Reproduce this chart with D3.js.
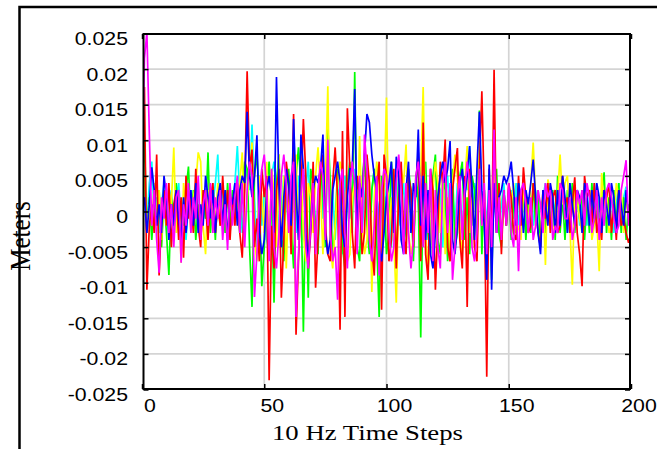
<!DOCTYPE html>
<html>
<head>
<meta charset="utf-8">
<script src="https://cdn.jsdelivr.net/npm/d3@7"></script>
<style>
  html, body { margin: 0; padding: 0; background: #fff; overflow: hidden; }
  svg { display: block; }
</style>
</head>
<body>
<svg id="chart" width="657" height="449"></svg>
<script>
// Time step index (10 Hz samples)
const steps = d3.range(0, 201);

// Displacement per channel, in millimetres (converted to metres when plotted)
const redMm = [
  2, 17.5, -11, -2, 1, -3, 8, -9, -1, 3,
  -2, 4, -5, 1, 3, -4, 2, -6.5, 5, -1,
  2, -3, 6, -2, -5, 3, 1, -4, 2, 4,
  -3, 1, -2, 5, -1, 3, -4, 2, -2, 4,
  -3, -6.5, 3, 19.7, 6, 8.7, -5, -1, -7, 6,
  2, 5, -23.7, -2, -8, 3, 6, -12.1, -4, 7,
  4, -6, 13.7, -17.3, -7, 2, 13, 5, -8, -3,
  7, -10.7, -4, 5, 8, -2, -6, -7, 4, 9,
  2, -16.6, 11.3, -14.8, 14.5, 6, -3, -8, 5, 2,
  -6, -3, 8, 4, -5, -9, 3, 7, -13.8, 8,
  5, -7, -4, 6, -8, 2, 7, -3, -6, 5,
  3, -5, 4, 8.3, -7, 12.5, -6, -9.6, 6, 3,
  -11, -2, 7, 4, 10.1, -5, -7, 3, 6, 8.9,
  -4, -8, 5, -13.4, 6, 3, -5, -7, 6, 16.9,
  2, -23.2, 6, -5, 19.9, -3, 4, -6, 3, -2,
  4, 2, -3, -4, 5, -2, 6.2, 2, -3, -2,
  4, 1, -3, -5, 3, -1, 4, -3, 2, 3,
  -3, -2, 5, 1, 2, -3, 1, 4.8, -3, -6,
  -10.5, 5, 2, 3, -2, 4, -3, -1, -4, 3,
  2, 4, -3, 1, -4, 3, -2, -1, -3, -4.4, -3
];
const greenMm = [
  3, 10.4, -3, 2, -4, 1, -2, 3, -5, 2,
  -3, -8.9, 2, -1, 4, -3, 1, -2, 3, 6.3,
  -2, 3, -4, 1, -3, 2, -1, 8.3, -3, 2,
  -4, 3, -2, 1, -3, 4, -2, 3, -1, 2,
  -3, 4, 7, 6, -5, -13.4, 5, 8, 2, -10.5,
  -5, 3, 7, 1, -12.8, 4, 8, -3, -7, 3,
  6, -2, -8, 5, 9, 4, -16.9, 3, -12.1, 6,
  4, -3, -6, 7, 2, -5, 12, 4, -7, -2,
  6, 3, -5, -8, 4, 7, -3, 19.6, -5, -7,
  4, 8, -2, -6, 3, 6, -4, -14.8, 5, 2,
  -6, -3, 7, 2, -8, 5, 4, -5, -2, 6,
  3, -7, 5, 2, -17.7, 4, 7, -3, -6, 5,
  8, -4, -6, 5, 3, -7, 2, 6, -5, -3,
  5, 7, -4, 2, -6, 5, 3, -4, 14.2, -6,
  3, -5, 2, -9.6, 4, 6, -3, -5, 3, -2,
  3, -4, 2, -3, 4, -2, 3, -4, 2, -3,
  4, -2, 3, -5, 2, -3, 4, -2, 3, -4,
  5, -3, 2, -4, 3, -2, 4, -3, 2, -1,
  3, -4, 2, -3, 4, -2, 3, -3, 2, 5.5,
  -3, 2, -4, 3, -2, 4, -3, 2, -4, 1, -4
];
const blueMm = [
  0, 2, -3, 1, 6.2, 3, -2, 1, -3, 5,
  2, -4, 1, -2, 3, -1, -4, 2, -3, 1,
  3, -2, 4, -3, 1, -2, 5, 2, -1, 3,
  -3, 2, 4, -2, 3, -4, 2, 1, 4, -2,
  3, 5, 4, 14, 5, 2, 5, 10.7, -3, -6,
  -4, 3, 5, 2, -3, 18.9, 4, -5, 2, 6,
  4, -2, 13, 3, -4, 10.8, 6, -3, -7, -2,
  3, 5, 4, 6, 10.8, -3, -6, -4, 3, 5,
  7, 4, -3, -5, 2, 6, 6, 17.2, -3, 4,
  2, 8, 13.7, 12.5, 8, 5, 3, -5, -7, -3,
  2, 4, 7, -3, 7.7, 5, -4, -6, 3, 7,
  -3, 4, 2, 11.5, -2, 5, -4, 3, -6, -8,
  -3, 2, 5, 7, 4, 6, 9.9, -4, -6, -2,
  4, 6, 2, 5, 9.2, 3, -4, 6, 14, 3,
  -2, -9.6, 6.6, -11, 4, -3, 2, 3, 5, 4,
  5, 7, 3, -2, 4, 2, -3, 3, 1, 4,
  7.3, 2, -3, -6, 3, 1, -2, 4, 2, -3,
  3, -2, 5, 2, -3, 4, 1, -2, 3, 2,
  -3, 4, 2, -2, 3, -1, 4, 2, -3, 3,
  1, -2, 4, 2, -3, 3, 1, -2, 3, -1, -3
];
const cyanMm = [
  1, 3, -2, 4, 7, -1, 2, -3, 1, 4,
  -2, 1, 3, -3, 2, 4, -1, 2, -4, 1,
  3, -2, 1, 4, -3, 2, -1, 3, -2, 1,
  4, 8, -2, 3, -1, 2, -3, 1, 4, 9.2,
  2, -3, 4, 6, 3, 12.2, 2, -5, 5, -2,
  3, -4, -6, 5, 7, 4, -3, 1, 5, 3,
  -2, 4, 6, -3, 5, 2, -4, 3, 7, -2,
  4, -3, -5, 5, -1, 3, 7, -2, 3, -4,
  2, 4, -6, 5, 2, -1, 3, 6, -2, 4,
  -3, 2, 5, -4, 3, 6, -2, 1, 3, -3,
  4, 2, -5, 3, 5, -2, 1, 4, -3, 2,
  3, -6, 4, 1, -3, 5, 2, -4, 3, 1,
  -2, 4, 3, -5, 2, 5, -1, 3, -2, 4,
  2, -3, 5, 3, 9.2, -2, 4, 2, 6, -3,
  3, -2, 4, -5, 2, 3, -3, 1, 4, -2,
  2, 3, -1, 4, -2, 1, 3, -3, 2, 1,
  -2, 3, 1, -3, 2, 4, -1, 2, -3, 1,
  3, -2, 2, 1, -3, 4, 2, -1, 3, -2,
  1, 3, -2, 2, -1, 4, -3, 2, 1, -2,
  3, -1, 2, -3, 1, 4, -2, 2, 3.5, -1, 1
];
const magentaMm = [
  3, 21.5, 25.2, 10.8, -2, 3, -4, -8.6, 2, -1,
  4, -3, 1, -5, 2, 3, -7.2, 1, -2, 4,
  -3, 2, -1, 5, -4, 1, 3, -2, 4, -3,
  2, -1, 3, -4, 1, -5.4, 4, -2, 2, 5,
  -3, 4, -5, 3, 7, 5, -12, -6, 2, 6,
  8, 3, -7, 6, -5, -8, -3, 5, 8, 4,
  -3, 5, 7, -14.8, -6, 2, 6, -5, -8, -2,
  4, -6, 3, 7, 5, -4, 10.1, -3, -7, -5,
  -12.4, 4, 6, -3, -8, 3, 7, 4, -6, 5,
  -3, 10.8, 6, -4, -7, -2, 5, -9, 3, 6,
  5, -3, -7, -5, 4, 8, 3, -6, 4, -3,
  -8, -4, 5, 7, 3, -5, 4, -3, 6, -7,
  3, -5, -8, 4, 7, -3, 4, -9.6, -5, 2,
  5, -4, 3, 7, 4, -5, -7, -3, 6, -2,
  4, -6, 3, -5, 11.5, -3, 2, -4, 3, -2,
  4, -3, -5, 2, -8.4, 3, 4, 1, -3, 2,
  -4, -2, 3, 1, -3, 4, 2, 3, -4, -2,
  -3, 4, 3, -1, -1, 2, -4, -2, 3, 1,
  3, -2, 4, 2, -3, -1, 3, -4, 2, -2,
  3, 4, 2, -1, -3, -2, 3, 5, 7.2, -2, 1
];
const yellowMm = [
  2, 5, -3, 1, -2, 4, -1, 3, -4, 2,
  -2, 3, 1, 9, -3, 2, -7.2, 4, -1, 3,
  -3, 2, 4, 8.3, 7, -2, -6, 3, -1, 2,
  -3, 4, -2, 1, 3, -4, 2, -1, 3, -2,
  4, 8.3, -3, 2, 5, 9.7, -4, -7, 5, 2,
  -3, 7, -6, 6, 3, -5, 8, -4, 5, -8,
  3, -6, 5, 8, -4, 6, -3, -7, 4, 2,
  -3, 5, 9, 3, -6, 4, 17.6, -5, -8, -2,
  4, 7, 5, -2, -7, -6, 2, 4, -3, 10.6,
  -2, -6, -4, 5, -11.3, 2, 7, 4, -6, 3,
  16, -3, 2, -4, -12.8, 3, 6, 4, 9.4, -3,
  -6, -4, 3, 7, 5, 17.5, -3, -8, -4, 3,
  7, 4, -3, 5, -6, 2, -7, 4, 8, 5,
  -3, -6, 4, 9.2, -3, 2, -4, 3, 10.5, -2,
  3, -4, 2, -8, 5, -2, 3, -4, 2, -1,
  3, 1, 4, -3, -2, -4, 3, 1, -2, 4,
  9.7, 2, -3, -4, 3, -7.5, 4.5, 3, -2, -3,
  2, 8, 1, 4, 5, -2, -10.3, 3, 2, -1,
  -3, 4, 2, 3, -4, -2, -1, -8.4, 5.4, 1,
  3, -3, -2, -1, 4, 2, 3, -3, 2, -1, 2
];

// Axis ticks
const xTickValues = [0, 50, 100, 150, 200];
const xTickLabels = ["0", "50", "100", "150", "200"];
const yTickValues = [0.025, 0.02, 0.015, 0.01, 0.005, 0, -0.005, -0.01, -0.015, -0.02, -0.025];
const yTickLabels = ["0.025", "0.02", "0.015", "0.01", "0.005", "0", "-0.005", "-0.01", "-0.015", "-0.02", "-0.025"];

// Draw order (last on top)
const channels = [
  { name: "cyan",    color: "#00ffff", mm: cyanMm },
  { name: "green",   color: "#00ff00", mm: greenMm },
  { name: "yellow",  color: "#ffff00", mm: yellowMm },
  { name: "red",     color: "#ff0000", mm: redMm },
  { name: "blue",    color: "#0000ff", mm: blueMm },
  { name: "magenta", color: "#ff00ff", mm: magentaMm }
];

const svg = d3.select("#chart");
const plotLeft = 143.5, plotRight = 630, plotTop = 34, plotBottom = 389;

const x = d3.scaleLinear().domain([0, 200]).range([142, 631]);
const y = d3.scaleLinear().domain([-0.025, 0.025]).range([389.5, 33.5]);

svg.append("rect").attr("width", 657).attr("height", 449).attr("fill", "#fff");

// Outer figure frame
svg.append("path")
  .attr("d", "M19.5,452 V7 H660")
  .attr("fill", "none")
  .attr("stroke", "#000")
  .attr("stroke-width", 2.5);

// Grid
const grid = svg.append("g").attr("stroke", "#d4d4d4").attr("stroke-width", 1.7);
grid.selectAll("line.gx")
  .data(xTickValues.filter(v => v > 0 && v < 200))
  .join("line").attr("class", "gx")
  .attr("x1", d => x(d)).attr("x2", d => x(d))
  .attr("y1", plotTop).attr("y2", plotBottom);
grid.selectAll("line.gy")
  .data(yTickValues.filter(v => v > -0.025 && v < 0.025))
  .join("line").attr("class", "gy")
  .attr("x1", plotLeft).attr("x2", plotRight)
  .attr("y1", d => y(d)).attr("y2", d => y(d));

// Data lines
svg.append("clipPath").attr("id", "plotclip")
  .append("rect")
  .attr("x", plotLeft).attr("y", plotTop)
  .attr("width", plotRight - plotLeft).attr("height", plotBottom - plotTop);

const line = d3.line()
  .x((d, i) => x(steps[i]))
  .y(d => y(d / 1000));

svg.append("g").attr("clip-path", "url(#plotclip)")
  .selectAll("path")
  .data(channels)
  .join("path")
  .attr("d", c => line(c.mm))
  .attr("fill", "none")
  .attr("stroke", c => c.color)
  .attr("stroke-width", 1.7)
  .attr("stroke-linejoin", "miter")
  .attr("stroke-miterlimit", 4);

// Inward ticks on all four sides
function ticksOnly(axis, tx, ty) {
  const g = svg.append("g").attr("transform", `translate(${tx},${ty})`).call(axis);
  g.select(".domain").remove();
  g.selectAll(".tick line").attr("stroke", "#000").attr("stroke-width", 1.5);
  g.selectAll(".tick text").remove();
}
ticksOnly(d3.axisLeft(y).tickValues(yTickValues).tickSize(-5), plotLeft, 0);
ticksOnly(d3.axisRight(y).tickValues(yTickValues).tickSize(-5), plotRight, 0);
ticksOnly(d3.axisTop(x).tickValues(xTickValues).tickSize(-5), 0, plotTop);
ticksOnly(d3.axisBottom(x).tickValues(xTickValues).tickSize(-5), 0, plotBottom);

// Plot box
svg.append("rect")
  .attr("x", plotLeft).attr("y", plotTop)
  .attr("width", plotRight - plotLeft).attr("height", plotBottom - plotTop)
  .attr("fill", "none").attr("stroke", "#000").attr("stroke-width", 2);

// Tick labels
const sans = "'Liberation Sans', Arial, Helvetica, sans-serif";
svg.append("g").selectAll("g")
  .data(yTickValues)
  .join("g")
  .attr("transform", d => `translate(128,${y(d) + 11.5}) scale(1.15,1)`)
  .append("text")
  .attr("text-anchor", "end")
  .attr("font-family", sans)
  .attr("font-size", 18.5)
  .attr("fill", "#000")
  .text((d, i) => yTickLabels[i]);

svg.append("g").selectAll("g")
  .data(xTickValues)
  .join("g")
  .attr("transform", d => `translate(${x(d) + 8},412) scale(1.15,1)`)
  .append("text")
  .attr("text-anchor", "middle")
  .attr("font-family", sans)
  .attr("font-size", 18.5)
  .attr("fill", "#000")
  .text((d, i) => xTickLabels[i]);

// Axis titles
const serif = "'Liberation Serif', 'Times New Roman', Times, serif";
svg.append("text")
  .attr("x", 367.5).attr("y", 440)
  .attr("text-anchor", "middle")
  .attr("font-family", serif)
  .attr("font-size", 21)
  .attr("textLength", 191)
  .attr("lengthAdjust", "spacingAndGlyphs")
  .attr("fill", "#000")
  .text("10 Hz Time Steps");

svg.append("text")
  .attr("transform", "translate(29.5,236) scale(1.2,1) rotate(-90)")
  .attr("text-anchor", "middle")
  .attr("font-family", serif)
  .attr("font-size", 25)
  .attr("fill", "#000")
  .text("Meters");
</script>
</body>
</html>
